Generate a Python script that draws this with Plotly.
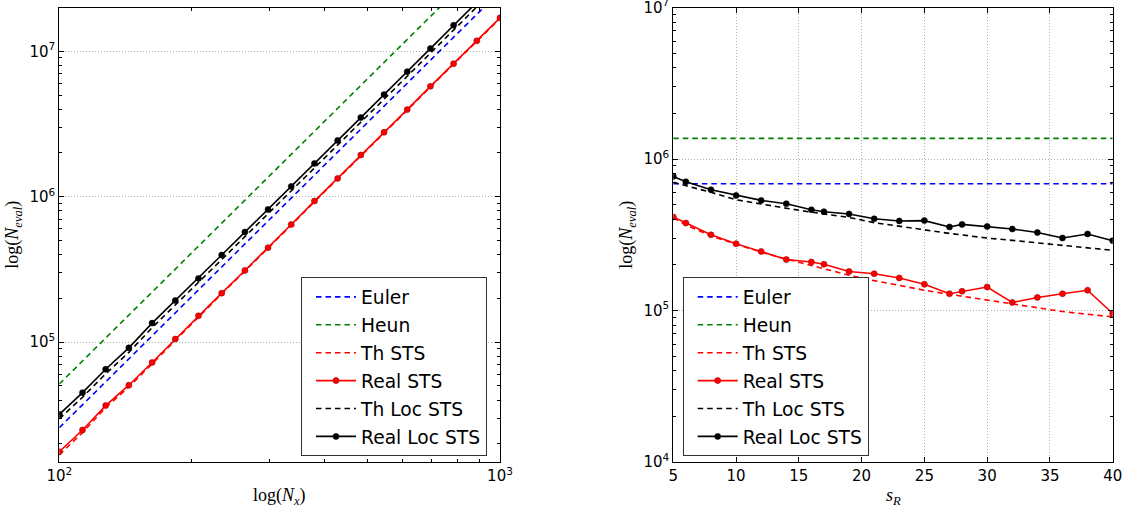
import math
import plotly.graph_objects as go

# ---------------- Left panel data (N_eval vs N_x) ----------------
nx = [100, 112.9, 127.4, 143.8, 162.4, 183.3, 206.9, 233.6, 263.7, 297.6,
      336.0, 379.3, 428.1, 483.3, 545.6, 615.8, 695.2, 784.8, 885.9, 1000]
left_euler = [25800, 37150, 53460, 76910, 110700, 159200, 228600, 328900, 473200, 680800,
              979500, 1409000, 2028000, 2917000, 4198000, 6026000, 8670000, 12470000,
              17950000, 25820000]
left_heun = [51600, 74300, 106900, 153800, 221400, 318400, 457200, 657800, 946400, 1361600,
             1959000, 2818000, 4056000, 5834000, 8396000, 12052000, 17340000, 24940000,
             35900000, 51640000]
left_th_sts = [16800, 23900, 35500, 49100, 71000, 102900, 148700, 215100, 308100, 441200,
               637800, 924000, 1323200, 1916600, 2745300, 3932300, 5683600, 8139800,
               11682000, 16810000]
left_real_sts = [17660, 24890, 36640, 50580, 72440, 105000, 151700, 217300, 311200, 445700,
                 644200, 933300, 1336600, 1936000, 2773000, 3972000, 5741000, 8222000,
                 11800000, 16980000]
left_th_loc = [29690, 41830, 60600, 85010, 125700, 179700, 255000, 369400, 531500, 761200,
               1095500, 1575400, 2267300, 3254100, 4682600, 6736900, 9718500, 14043000,
               20209000, 29072000]
left_real_loc = [31920, 44980, 65160, 91410, 135200, 193200, 274200, 397200, 571500, 818500,
                 1178000, 1694000, 2438000, 3499000, 5035000, 7244000, 10450000, 15100000,
                 21730000, 31260000]

# ---------------- Right panel data (N_eval vs s_R) ----------------
sr = [5, 6, 8, 10, 12, 14, 16, 17, 19, 21, 23, 25, 27, 28, 30, 32, 34, 36, 38, 40]
right_euler = [687000] * 20
right_heun = [1368000] * 20
right_th_sts = [409300, 367300, 310500, 274800, 242700, 218800, 197700, 188800, 171000, 157400,
                146200, 136100, 127900, 124200, 117000, 110200, 103500, 98400, 94400, 90800]
right_real_sts = [414000, 378000, 316000, 276000, 245000, 217000, 209000, 202000, 181000, 175000,
                  164000, 149000, 129000, 134000, 143000, 113000, 122000, 129000, 136000, 95500]
right_th_loc = [701500, 668300, 602600, 538300, 503500, 473200, 445700, 433500, 411100, 380200,
                358900, 338100, 322800, 315500, 300600, 290400, 279900, 269800, 259400, 249500]
right_real_loc = [767000, 708000, 627000, 575000, 533000, 507000, 462000, 449000, 434000, 403000,
                  390000, 392000, 356000, 370000, 359000, 345000, 327000, 301000, 320000, 289000]

names = ["Euler", "Heun", "Th STS", "Real STS", "Th Loc STS", "Real Loc STS"]
colors = ["#0000ff", "#008000", "#ff0000", "#ff0000", "#000000", "#000000"]
has_markers = [False, False, False, True, False, True]

W, H = 1127, 509
DASH = "5.5px,4px"
LW = 1.6

fig = go.Figure()

left_series = [left_euler, left_heun, left_th_sts, left_real_sts, left_th_loc, left_real_loc]
right_series = [right_euler, right_heun, right_th_sts, right_real_sts, right_th_loc, right_real_loc]

def add_series(xs, series, xa, ya, leg, tag):
    for name, col, mk, ys in zip(names, colors, has_markers, series):
        edge = "#990000" if col == "#ff0000" else "#000000"
        fig.add_trace(go.Scatter(
            x=xs, y=ys, name=name,
            mode="lines+markers" if mk else "lines",
            line=dict(color=col, width=LW, dash="solid" if mk else DASH),
            marker=dict(size=6, color=col, line=dict(color=edge, width=0.6)),
            xaxis=xa, yaxis=ya, legend=leg, legendgroup=tag + name, cliponaxis=True,
        ))

add_series(nx, left_series, "x", "y", "legend", "L")
add_series(sr, right_series, "x2", "y2", "legend2", "R")

tick_font = dict(family="DejaVu Sans", size=15, color="black")
common = dict(showline=True, linecolor="black", linewidth=1, mirror="ticks",
              ticks="inside", ticklen=5, tickwidth=1, tickcolor="black",
              tickfont=tick_font, zeroline=False, automargin=False,
              ticklabeloverflow="allow",
              gridcolor="#b0b0b0", griddash="1px,2px", gridwidth=1)

def sup(e):
    return "10<sup>%d</sup>" % e

y_dom = [1 - 462 / H, 1 - 7.5 / H]

minor_left_x = [200, 300, 400, 500, 600, 700, 800, 900]
minor_log_y = [m * 10 ** e for e in (4, 5, 6) for m in range(2, 10)]

fig.update_layout(
    width=W, height=H,
    margin=dict(l=0, r=0, t=0, b=0, autoexpand=False),
    paper_bgcolor="white", plot_bgcolor="white",
    showlegend=True,
    xaxis=dict(domain=[59.3 / W, 500 / W], type="log", range=[2, 3], anchor="y",
               tickmode="array", tickvals=[100, 1000], ticktext=[sup(2), sup(3)],
               showgrid=False,
               minor=dict(tickmode="array", tickvals=minor_left_x, ticks="inside",
                          ticklen=3, tickcolor="black", showgrid=False),
               **common),
    yaxis=dict(domain=y_dom, type="log", range=[math.log10(1.5e4), math.log10(2e7)],
               anchor="x", tickmode="array", tickvals=[1e5, 1e6, 1e7],
               ticktext=[sup(5), sup(6), sup(7)], showgrid=True,
               minor=dict(tickmode="array", tickvals=minor_log_y, ticks="inside",
                          ticklen=3, tickcolor="black", showgrid=False),
               **common),
    xaxis2=dict(domain=[673.3 / W, 1112.7 / W], range=[5, 40], anchor="y2",
                tickmode="array", tickvals=[5, 10, 15, 20, 25, 30, 35, 40],
                ticktext=["5", "10", "15", "20", "25", "30", "35", "40"],
                showgrid=True, **common),
    yaxis2=dict(domain=y_dom, type="log", range=[4, 7], anchor="x2",
                tickmode="array", tickvals=[1e4, 1e5, 1e6, 1e7],
                ticktext=[sup(4), sup(5), sup(6), sup(7)], showgrid=True,
                minor=dict(tickmode="array", tickvals=minor_log_y, ticks="inside",
                           ticklen=3, tickcolor="black", showgrid=False),
                **common),
)

leg_common = dict(xanchor="left", yanchor="top", bordercolor="#333333", borderwidth=1,
                  bgcolor="white", font=dict(family="DejaVu Sans", size=18.7, color="black"),
                  itemwidth=40, indentation=9, traceorder="grouped", tracegroupgap=0.6)
fig.update_layout(
    legend=dict(x=301 / W, y=1 - 277.2 / H, **leg_common),
    legend2=dict(x=682.7 / W, y=1 - 277.2 / H, **leg_common),
)

title_font = dict(family="Liberation Serif", size=18, color="black")
fig.add_annotation(text="log(<i>N</i><sub><i>x</i></sub>)", x=279.6 / W, y=1 - 496.5 / H,
                   xref="paper", yref="paper", showarrow=False, font=title_font,
                   xanchor="center", yanchor="middle")
fig.add_annotation(text="log(<i>N</i><sub><i>eval</i></sub>)", x=14 / W, y=1 - 234.7 / H,
                   xref="paper", yref="paper", showarrow=False, font=title_font,
                   textangle=-90, xanchor="center", yanchor="middle")
fig.add_annotation(text="<i>s</i><sub><i>R</i></sub>", x=893 / W, y=1 - 496.5 / H,
                   xref="paper", yref="paper", showarrow=False, font=title_font,
                   xanchor="center", yanchor="middle")
fig.add_annotation(text="log(<i>N</i><sub><i>eval</i></sub>)", x=628 / W, y=1 - 234.7 / H,
                   xref="paper", yref="paper", showarrow=False, font=title_font,
                   textangle=-90, xanchor="center", yanchor="middle")

fig.write_html("out.html")
